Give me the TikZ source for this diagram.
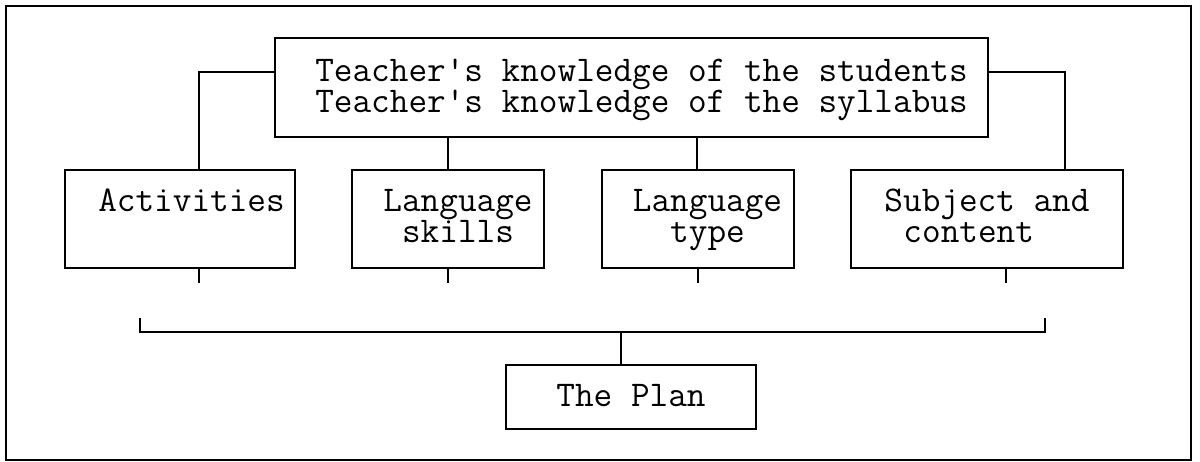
\documentclass[tikz,border=0pt]{standalone}
\begin{document}
\begin{tikzpicture}[x=0.02cm,y=-0.02cm,
  line width=1.1pt,
  box/.style={draw,rectangle,inner sep=0pt,line width=1.1pt},
  txt/.style={anchor=base,inner sep=0pt,font=\fontsize{20.6}{17.8}\selectfont\ttfamily},
  conn/.style={line width=1.1pt}]
\useasboundingbox (0,0) rectangle (1200,462);
% outer frame
\draw[line width=1.2pt] (6,6) rectangle (1191,460);
% boxes
\node[box,minimum width=14.26cm,minimum height=1.98cm] (top) at (631.5,87.5) {};
\node[box,minimum width=4.6cm,minimum height=1.96cm] (act) at (180,219) {};
\node[box,minimum width=3.84cm,minimum height=1.96cm] (skl) at (448,219) {};
\node[box,minimum width=3.84cm,minimum height=1.96cm] (typ) at (698,219) {};
\node[box,minimum width=5.44cm,minimum height=1.96cm] (sub) at (987,219) {};
\node[box,minimum width=5.0cm,minimum height=1.28cm] (plan) at (631,397) {};
% texts
\node[txt,align=left] (ttop) at (641.5,113) {Teacher's knowledge of the students\\Teacher's knowledge of the syllabus};
\node[txt] (tact) at (191.5,212) {Activities};
\node[txt,align=center] (tskl) at (458,243) {Language\\skills};
\node[txt,align=center] (ttyp) at (707.5,243) {Language\\type};
\node[txt,align=left] (tsub) at (987,243) {Subject and\\\hspace*{0.525em}content};
\node[txt] (tplan) at (631,406) {The Plan};
% connectors from the top box
\draw[conn] (top.west |- 0,72) -| (act.north -| 199,0);
\draw[conn] (top.east |- 0,72) -| (sub.north -| 1065,0);
\draw[conn] (top.south -| 448,0) -- (skl.north -| 448,0);
\draw[conn] (top.south -| 697,0) -- (typ.north -| 697,0);
% ticks below the boxes
\coordinate (ka) at (199,283);
\coordinate (ks) at (448,283);
\coordinate (kt) at (698,283);
\coordinate (ku) at (1006,283);
\draw[conn] (act.south -| ka) -- (ka);
\draw[conn] (skl.south -| ks) -- (ks);
\draw[conn] (typ.south -| kt) -- (kt);
\draw[conn] (sub.south -| ku) -- (ku);
% bracket
\coordinate (bl) at (140,318);
\coordinate (br) at (1045,318);
\coordinate (bm) at (621,332);
\draw[conn] (bl) |- (bm) -| (br);
\draw[conn] (bm) -- (plan.north -| bm);
\end{tikzpicture}
\end{document}
